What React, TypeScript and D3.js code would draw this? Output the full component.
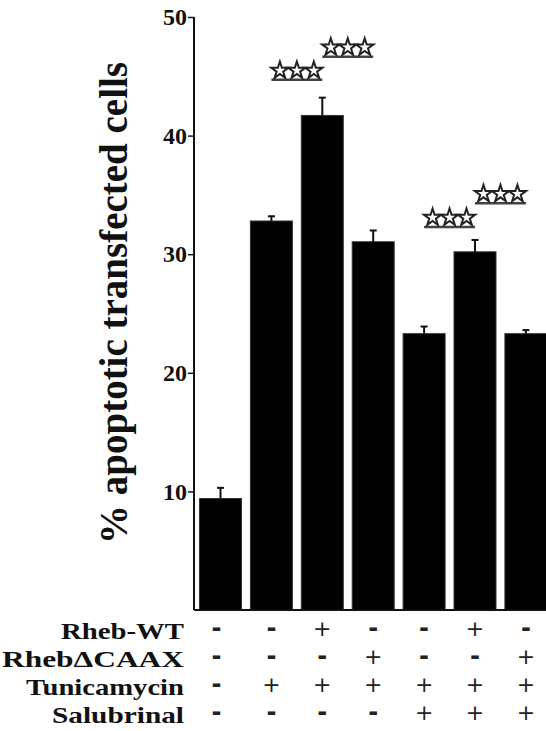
import React, { useEffect, useRef } from 'react'
import * as d3 from 'd3'

// bar groups, left to right
const groups = ['g1', 'g2', 'g3', 'g4', 'g5', 'g6', 'g7']
const means = [9.4, 32.8, 41.7, 31.05, 23.3, 30.2, 23.3]
const errors = [0.9, 0.4, 1.5, 0.95, 0.6, 1.0, 0.3]

const yTicks = [10, 20, 30, 40, 50]

// treatment table under the bars
const conditions = ['Rheb-WT', 'RhebΔCAAX', 'Tunicamycin', 'Salubrinal']
const signs = [
  ['-', '-', '+', '-', '-', '+', '-'],
  ['-', '-', '-', '+', '-', '-', '+'],
  ['-', '+', '+', '+', '+', '+', '+'],
  ['-', '-', '-', '-', '+', '+', '+'],
]

// significance marks: pair of groups and height (in % units)
const sigPairs = [[1, 2], [2, 3], [4, 5], [5, 6]]
const sigLevels = [44.7, 46.65, 32.3, 34.3]

const W = 546
const H = 731
const SERIF = '"Liberation Serif", "Times New Roman", serif'
const SANS = '"DejaVu Sans", sans-serif'

const labelWidths = [123, 182, 158, 132]

export default function App() {
  const svgRef = useRef<SVGSVGElement | null>(null)

  useEffect(() => {
    const svg = d3.select(svgRef.current)
    svg.selectAll('*').remove()

    const x = d3.scaleBand<string>()
      .domain(groups)
      .range([194, 552.4])
      .paddingInner(0.175)
      .paddingOuter(0.108)

    const y = d3.scaleLinear().domain([0, 50]).range([610, 17])

    const g = svg.append('g')

    // bars
    g.selectAll('.bar')
      .data(means)
      .enter()
      .append('rect')
      .attr('x', (d, i) => x(groups[i]) as number)
      .attr('y', d => y(d))
      .attr('width', x.bandwidth())
      .attr('height', d => y(0) - y(d))
      .attr('fill', '#000')
      .attr('stroke', '#333')
      .attr('stroke-width', 1)

    // error bars (upper only)
    const cx = (i: number) => (x(groups[i]) as number) + x.bandwidth() / 2
    const err = g.append('g')
    means.forEach((m, i) => {
      err.append('line')
        .attr('x1', cx(i)).attr('x2', cx(i))
        .attr('y1', y(m)).attr('y2', y(m + errors[i]))
        .attr('stroke', '#111').attr('stroke-width', 2)
      err.append('line')
        .attr('x1', cx(i) - 3.5).attr('x2', cx(i) + 3.5)
        .attr('y1', y(m + errors[i])).attr('y2', y(m + errors[i]))
        .attr('stroke', '#111').attr('stroke-width', 2)
    })

    // y axis
    const axis = g.append('g').attr('transform', 'translate(194,0)')
    axis.call(d3.axisLeft(y).tickValues(yTicks).tickSize(6).tickFormat(d3.format('d')))
    axis.select('.domain').attr('d', `M0,${y(50)}V${y(0)}`).attr('stroke', '#111').attr('stroke-width', 2)
    axis.selectAll('.tick line').attr('stroke', '#111').attr('stroke-width', 1.5)
    axis.selectAll('.tick text')
      .attr('x', -7)
      .attr('font-family', SERIF)
      .attr('font-weight', 'bold')
      .attr('font-size', 24)
      .attr('fill', '#111')

    // baseline
    g.append('line')
      .attr('x1', 194).attr('x2', W)
      .attr('y1', y(0)).attr('y2', y(0))
      .attr('stroke', '#111').attr('stroke-width', 2)

    // y label
    g.append('text')
      .attr('transform', `translate(127,${303}) rotate(-90)`)
      .attr('text-anchor', 'middle')
      .attr('font-family', SERIF)
      .attr('font-weight', 'bold')
      .attr('font-size', 39)
      .attr('fill', '#111')
      .text('% apoptotic transfected cells')

    // significance stars
    const star = d3.symbol().type(d3.symbolStar).size(92)
    const r = Math.sqrt(92 * 0.8908130915292852)
    sigPairs.forEach((p, k) => {
      const x1 = cx(p[0])
      const x2 = cx(p[1])
      const ly = y(sigLevels[k])
      g.append('line')
        .attr('x1', x1).attr('x2', x2)
        .attr('y1', ly).attr('y2', ly)
        .attr('stroke', '#444').attr('stroke-width', 2.5)
      const w = x2 - x1
      ;[1, 3, 5].forEach(j => {
        g.append('path')
          .attr('d', star() as string)
          .attr('transform', `translate(${x1 + (w * j) / 6},${ly - 2 - 0.809 * r})`)
          .attr('fill', '#fff')
          .attr('stroke', '#222')
          .attr('stroke-width', 2)
      })
    })

    // treatment table
    const rowY = d3.scalePoint<string>().domain(conditions).range([630, 714])
    const table = g.append('g')
    const fs = 24
    table.selectAll('.cond')
      .data(conditions)
      .enter()
      .append('text')
      .attr('x', 184)
      .attr('y', d => (rowY(d) as number) + 0.36 * fs)
      .attr('text-anchor', 'end')
      .attr('font-family', SERIF)
      .attr('font-weight', 'bold')
      .attr('font-size', fs)
      .attr('textLength', (d, i) => labelWidths[i])
      .attr('lengthAdjust', 'spacingAndGlyphs')
      .attr('fill', '#111')
      .text(d => d)

    signs.forEach((row, ri) => {
      row.forEach((s, i) => {
        const cy = rowY(conditions[ri]) as number
        table.append('text')
          .attr('x', cx(i) - (i === 0 ? 4 : 0))
          .attr('y', cy + (s === '+' ? 0.29 * 22 : 0.26 * 24))
          .attr('text-anchor', 'middle')
          .attr('font-family', SANS)
          .attr('font-weight', s === '+' ? 'normal' : 'bold')
          .attr('font-size', s === '+' ? 22 : 24)
          .attr('fill', '#222')
          .text(s)
      })
    })
  }, [])

  return (
    <div style={{ position: 'absolute', left: 0, top: 0, background: '#fff' }}>
      <svg ref={svgRef} width={W} height={H} style={{ display: 'block' }} />
    </div>
  )
}
